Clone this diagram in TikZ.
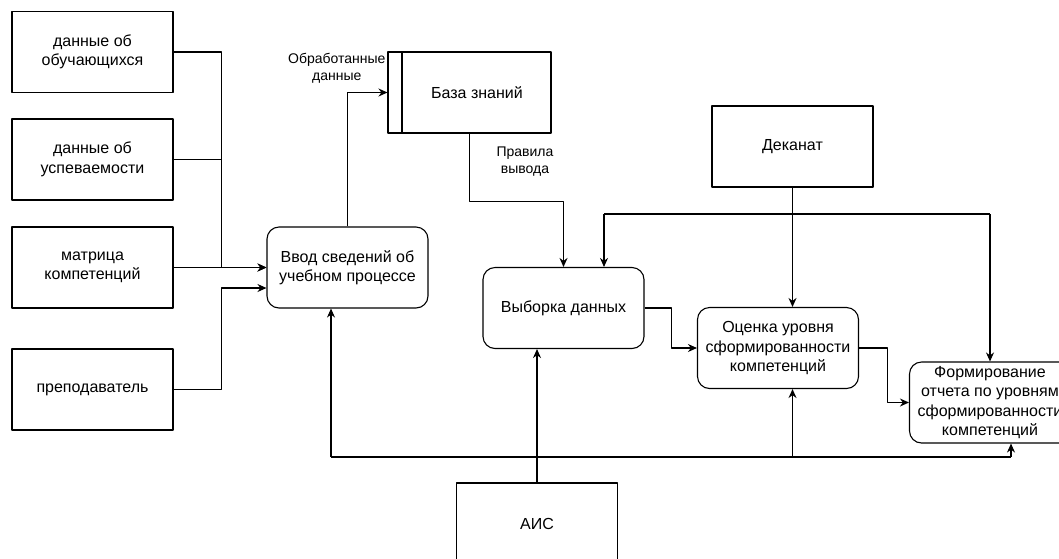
\documentclass[tikz,border=0pt]{standalone}
\usepackage{fontspec}
\setmainfont{Liberation Sans}
\usetikzlibrary{arrows.meta}
\begin{document}
\begin{tikzpicture}[x=1pt,y=-1pt,>={Stealth[length=9pt,width=8pt]},line join=round,line width=1.1pt,
	ent/.style={draw,minimum width=161pt,minimum height=81pt,inner sep=1pt,align=center,font=\fontsize{16}{19.5}\selectfont},
	proc/.style={ent,rounded corners=12pt},
	lbl/.style={align=center,inner sep=0pt,font=\fontsize{14}{17}\selectfont}]
	\useasboundingbox (0,0) rectangle (1059,558);
	% sources on the left
	\node[ent] (obuch) at (92.5,52) {данные об\\обучающихся};
	\node[ent] (usp) at (92.5,159.5) {данные об\\успеваемости};
	\node[ent] (matr) at (92.5,267.5) {матрица\\компетенций};
	\node[ent] (prep) at (92.5,389.5) {преподаватель};
	% processes
	\node[proc] (vvod) at (347.5,267.5) {Ввод сведений об\\учебном процессе};
	\node[ent,minimum width=163pt] (baza) at (469.5,92.5) {\hspace*{15pt}База знаний};
	\draw[line width=2pt] ([xshift=15pt]baza.north west) -- ([xshift=15pt]baza.south west);
	\node[proc] (vyb) at (563.5,308) {Выборка данных};
	\node[proc] (ocen) at (778,348) {Оценка уровня\\сформированности\\компетенций};
	\node[proc,inner sep=0pt] (form) at (990,402.5) {Формирование\\отчета по уровням\\сформированности\\компетенций};
	\node[ent] (dek) at (792.5,146.5) {Деканат};
	\node[ent] (ais) at (537,523.5) {АИС};
	% inputs
	\draw[->] (obuch.east) -- ++(47.5,0) |- (vvod.west);
	\draw (usp.east) -- ++(47.5,0);
	\draw[->] (matr.east) -- (vvod.west);
	\draw[->] (prep.east) -- ++(47.5,0) |- ([yshift=-20.5pt]vvod.west);
	\draw[->] (vvod.north) |- (baza.west);
	\node[lbl,anchor=east] (obr) at (386,68) {Обработанные\\данные};
	\draw[->] (baza.south) -- ++(0,67.5) -| (vyb.north);
	\node[lbl] (prav) at (525,162) {Правила\\вывода};
	% Деканат
	\coordinate (jl) at (604,214);
	\coordinate (jr) at (990,214);
	\draw (jl) -- (jr);
	\draw[->] (jl) -- (jl |- vyb.north);
	\draw[->] (jr) -- (form.north);
	\draw[->] (dek.south) -- (dek.south |- ocen.north);
	% flow
	\draw[->] (vyb.east) -- ++(27,0) |- (ocen.west);
	\draw[->] (ocen.east) -- ++(28,0) |- (form.west);
	% АИС
	\coordinate (bl) at (331,457);
	\coordinate (br) at (1011,457);
	\draw (bl) -- (br);
	\draw[->] (bl) -- (bl |- vvod.south);
	\draw[->] (br) -- (br |- form.south);
	\draw[->] (dek.south |- bl) -- (dek.south |- ocen.south);
	\draw[->] (ais.north) -- (ais.north |- vyb.south);
\end{tikzpicture}
\end{document}
